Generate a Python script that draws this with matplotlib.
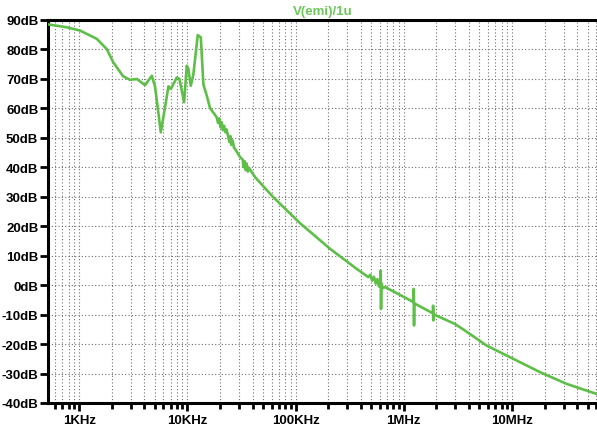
import matplotlib
matplotlib.use("Agg")
import matplotlib.pyplot as plt
from matplotlib.ticker import FixedLocator, LogLocator, NullFormatter

plt.rcParams['font.family'] = ['Liberation Sans', 'DejaVu Sans']
plt.rcParams['font.weight'] = 'bold'

# frequency response of V(emi)/1u, Hz -> dB
freq = [
    518, 774, 1020, 1456, 1802, 2061, 2548, 2956, 3410, 4064,
    4690, 5030, 5680, 6220, 6680, 7030, 7980, 8440, 9330, 9870,
    10210, 10740, 11350, 12470, 13300, 14060, 15110, 16200, 18670,
    19200, 19700, 20200, 20700, 21300, 21800, 22500, 23000, 23910,
    24500, 25000, 25500, 26200, 27000, 27560, 30680,
    32500, 33000, 33800, 34500, 35300, 36200, 37000, 42200,
    61800, 109800, 208000, 366500, 469000,
    490000, 510000, 530000, 550000, 570000, 590000, 605000,
    612000, 616000, 620000, 640000, 668700, 827000,
    1.230e6, 1.235e6, 1.243e6, 1.250e6,
    1.860e6, 1.865e6, 1.873e6, 1.880e6,
    2.966e6, 3.666e6, 5.816e6, 10.24e6, 18.06e6, 31.86e6, 60.2e6,
]
gain_db = [
    88.4, 87.4, 86.3, 83.5, 80.0, 75.6, 70.8, 69.6, 69.9, 67.8,
    71.0, 67.2, 51.8, 60.4, 67.4, 66.5, 70.4, 69.9, 62.0, 74.4,
    73.3, 67.6, 71.4, 84.8, 84.0, 68.0, 64.2, 60.0, 56.9,
    55.0, 56.5, 53.5, 55.2, 52.5, 54.0, 51.8, 52.8, 50.1,
    48.5, 50.5, 47.5, 49.0, 46.5, 46.2, 43.4,
    42.5, 40.0, 42.0, 39.0, 41.2, 38.5, 39.8, 36.6,
    29.9, 21.0, 12.3, 5.5, 2.7,
    3.5, 1.5, 2.8, 0.5, 2.0, -0.5, 1.5,
    4.9, -8.1, 0.5, -1.0, -0.7, -2.4,
    -5.8, -1.3, -13.7, -6.2,
    -9.6, -7.0, -12.0, -9.9,
    -13.2, -15.4, -20.5, -25.0, -29.5, -33.5, -36.9,
]

y_ticks = list(range(-40, 100, 10))
x_ticks = [1e3, 1e4, 1e5, 1e6, 1e7]
x_labels = ['1KHz', '10KHz', '100KHz', '1MHz', '10MHz']

fig = plt.figure(figsize=(5.97, 4.27), dpi=100)
ax = fig.add_axes([48 / 597, 23 / 427, 549 / 597, 383.3 / 427])

ax.plot(freq, gain_db, color='#5ebf48', lw=1.9, solid_joinstyle='round', zorder=3)

ax.set_xscale('log')
ax.set_xlim(515, 61e6)
ax.set_ylim(-40, 90)

ax.xaxis.set_major_locator(FixedLocator(x_ticks))
ax.set_xticklabels(x_labels)
ax.xaxis.set_minor_locator(LogLocator(base=10, subs=range(2, 10), numticks=20))
ax.xaxis.set_minor_formatter(NullFormatter())
ax.set_yticks(y_ticks)
ax.set_yticklabels([f'{v}dB' for v in y_ticks])

grid_kw = dict(color='#707070', linestyle=(0, (1, 2)), linewidth=0.8)
ax.grid(True, which='major', axis='both', **grid_kw)
ax.grid(True, which='minor', axis='x', **grid_kw)

ax.tick_params(axis='y', which='major', direction='out', length=6, width=2,
               pad=1, labelsize=9.5, colors='black')
ax.tick_params(axis='x', which='major', direction='out', length=6, width=2,
               pad=2, labelsize=9.5)
ax.tick_params(axis='x', which='minor', direction='out', length=4, width=2)

for side in ('left', 'bottom', 'top'):
    ax.spines[side].set_linewidth(2.2)
ax.spines['right'].set_visible(False)

ax.set_title('V(emi)/1u', color='#6cc65a', fontsize=9.5, fontweight='bold', pad=4)

fig.savefig('out.png', dpi=100)
